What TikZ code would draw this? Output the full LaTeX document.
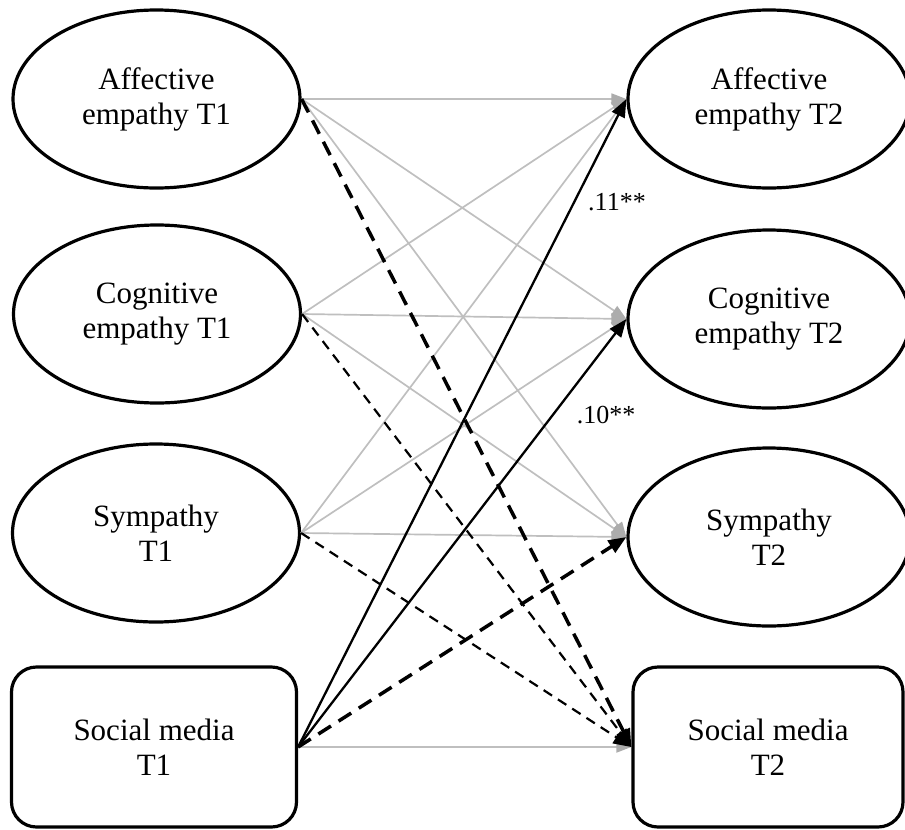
\documentclass[tikz,border=0pt]{standalone}
\usepackage{fontspec}
\setmainfont{Liberation Serif}
\usetikzlibrary{arrows.meta,shapes.geometric}
\begin{document}
\begin{tikzpicture}[x=1pt,y=-1pt,
  latent/.style={ellipse,draw=black,line width=3.2pt,inner sep=0pt,align=center,
    font=\fontsize{31}{35}\selectfont},
  observed/.style={rectangle,rounded corners=25pt,draw=black,line width=3.2pt,inner sep=0pt,align=center,
    font=\fontsize{31}{35}\selectfont},
  grayarrow/.style={draw=gray!50,line width=1.7pt,-{Triangle[length=15pt,width=11pt,color=gray!65]}},
  blackarrow/.style={draw=black,line width=2.3pt,-{Triangle[length=18pt,width=14pt]}},
  thindash/.style={draw=black,line width=2.2pt,dash pattern=on 10pt off 7pt,-{Triangle[length=18pt,width=14pt]}},
  thickdash/.style={draw=black,line width=3.5pt,dash pattern=on 15pt off 9pt,-{Triangle[length=18pt,width=14pt]}},
  coef/.style={font=\fontsize{26}{30}\selectfont,inner sep=0pt}
]
\useasboundingbox (0,0) rectangle (905,830);
% left column
\node[latent,minimum width=287pt,minimum height=178pt] (a1) at (156.5,99) {Affective\\empathy T1};
\node[latent,minimum width=287pt,minimum height=178pt] (c1) at (157,314) {Cognitive\\empathy T1};
\node[latent,minimum width=287pt,minimum height=178pt] (s1) at (156,533) {Sympathy\\T1};
\node[observed,minimum width=285pt,minimum height=160pt] (m1) at (154,747) {Social media\\T1};
% right column
\node[latent,minimum width=282pt,minimum height=178pt] (a2) at (769,99) {Affective\\empathy T2};
\node[latent,minimum width=282pt,minimum height=178pt] (c2) at (769,319) {Cognitive\\empathy T2};
\node[latent,minimum width=282pt,minimum height=178pt] (s2) at (769,537) {Sympathy\\T2};
\node[observed,minimum width=270pt,minimum height=160pt] (m2) at (768,747) {Social media\\T2};
% gray (non-significant) paths
\draw[grayarrow] (a1.east) -- (a2.west);
\draw[grayarrow] (a1.east) -- (c2.west);
\draw[grayarrow] (a1.east) -- (s2.west);
\draw[grayarrow] (c1.east) -- (a2.west);
\draw[grayarrow] (c1.east) -- (c2.west);
\draw[grayarrow] (c1.east) -- (s2.west);
\draw[grayarrow] (s1.east) -- (a2.west);
\draw[grayarrow] (s1.east) -- (c2.west);
\draw[grayarrow] (s1.east) -- (s2.west);
\draw[grayarrow] (m1.east) -- (m2.west);
% black paths
\draw[thickdash] (a1.east) -- (m2.west);
\draw[thindash] (c1.east) -- (m2.west);
\draw[thindash] (s1.east) -- (m2.west);
\draw[blackarrow] (m1.east) -- (a2.west);
\draw[blackarrow] (m1.east) -- (c2.west);
\draw[thickdash] (m1.east) -- (s2.west);
% coefficients
\node[coef] (k1) at (617,202) {.11**};
\node[coef] (k2) at (606,415) {.10**};
\end{tikzpicture}
\end{document}
